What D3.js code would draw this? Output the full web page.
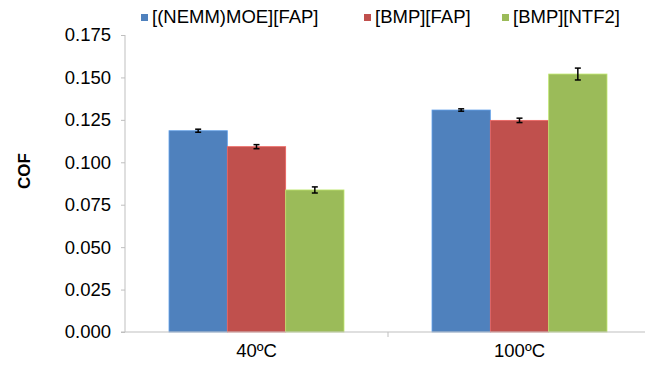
<!DOCTYPE html>
<html>
<head>
<meta charset="utf-8">
<script src="https://cdn.jsdelivr.net/npm/d3@7"></script>
<style>
	body { margin: 0; background: #fff; }
	text { font-family: "Liberation Sans", Arial, sans-serif; fill: #000; }
</style>
</head>
<body>
<div id="chart"></div>
<script>
var categories = ["40ºC", "100ºC"];
var seriesNames = ["[(NEMM)MOE][FAP]", "[BMP][FAP]", "[BMP][NTF2]"];
var seriesColors = ["#4f81bd", "#c0504d", "#9bbb59"];
var values = [
	[0.1186, 0.1308],
	[0.1092, 0.1247],
	[0.0837, 0.1520]
];
var errors = [
	[0.0009, 0.0007],
	[0.0012, 0.0013],
	[0.0018, 0.0035]
];
var yTicks = [0, 0.025, 0.05, 0.075, 0.1, 0.125, 0.15, 0.175];

var width = 645, height = 372;
var margin = { left: 125, right: 651, top: 35, bottom: 332 };
var fontSize = "18.5px";

var svg = d3.select("#chart").append("svg")
	.attr("width", width)
	.attr("height", height);

var x0 = d3.scaleBand()
	.domain(categories)
	.range([margin.left, margin.right])
	.padding(0);

var groupW = 175;
var x1 = d3.scaleBand()
	.domain(d3.range(seriesNames.length))
	.range([(x0.bandwidth() - groupW) / 2, (x0.bandwidth() + groupW) / 2]);

var y = d3.scaleLinear()
	.domain([0, 0.175])
	.range([margin.bottom, margin.top]);

// y axis
var yAxis = svg.append("g")
	.attr("transform", "translate(" + margin.left + ",0)")
	.call(d3.axisLeft(y).tickValues(yTicks).tickSize(4).tickPadding(10)
		.tickFormat(d3.format(".3f")));
yAxis.selectAll("line, path").attr("stroke", "#bfbfbf");
yAxis.select(".domain").attr("d", "M0," + margin.top + "V" + margin.bottom);
yAxis.selectAll("text").style("font-size", fontSize).attr("fill", "#000");

// bars
var rows = [];
values.forEach(function(s, i)
{
	s.forEach(function(v, j)
	{
		rows.push({ s: i, c: categories[j], v: v, e: errors[i][j] });
	});
});

function cx(d) { return x0(d.c) + x1(d.s) + x1.bandwidth() / 2; }

svg.selectAll(".bar")
	.data(rows)
	.enter()
	.append("rect")
	.attr("class", "bar")
	.attr("x", function(d) { return x0(d.c) + x1(d.s); })
	.attr("y", function(d) { return y(d.v); })
	.attr("width", x1.bandwidth())
	.attr("height", function(d) { return margin.bottom - y(d.v); })
	.attr("fill", function(d) { return seriesColors[d.s]; })
	.attr("stroke", function(d) { return d3.color(seriesColors[d.s]).brighter(0.6); })
	.attr("stroke-width", 0.8);

// error bars
var eb = svg.selectAll(".err")
	.data(rows)
	.enter()
	.append("g")
	.attr("class", "err")
	.attr("stroke", "#000")
	.attr("stroke-width", 1.5);

eb.append("line")
	.attr("x1", cx)
	.attr("x2", cx)
	.attr("y1", function(d) { return y(d.v + d.e); })
	.attr("y2", function(d) { return y(d.v - d.e); });

[1, -1].forEach(function(sign)
{
	eb.append("line")
		.attr("x1", function(d) { return cx(d) - 3; })
		.attr("x2", function(d) { return cx(d) + 3; })
		.attr("y1", function(d) { return y(d.v + sign * d.e); })
		.attr("y2", function(d) { return y(d.v + sign * d.e); });
});

// x axis
var xAxis = svg.append("g")
	.attr("transform", "translate(0," + margin.bottom + ")")
	.call(d3.axisBottom(x0).tickSize(0).tickPadding(12));
xAxis.select(".domain").attr("stroke", "#bfbfbf").attr("d", "M" + (margin.left - 4) + ",0H" + margin.right);
xAxis.selectAll("text").style("font-size", fontSize).attr("fill", "#000");

// category separators
svg.append("g")
	.selectAll("line")
	.data(categories.slice(1))
	.enter()
	.append("line")
	.attr("x1", function(d) { return x0(d); })
	.attr("x2", function(d) { return x0(d); })
	.attr("y1", margin.bottom)
	.attr("y2", margin.bottom + 5)
	.attr("stroke", "#bfbfbf");

// y title
svg.append("text")
	.attr("transform", "translate(30,171) rotate(-90)")
	.attr("text-anchor", "middle")
	.style("font-size", "17px")
	.style("font-weight", "bold")
	.text("COF");

// legend
var legendX = [141, 364, 502];
var lg = svg.selectAll(".legend")
	.data(seriesNames)
	.enter()
	.append("g")
	.attr("class", "legend")
	.attr("transform", function(d, i) { return "translate(" + legendX[i] + ",17)"; });

lg.append("rect")
	.attr("x", 0)
	.attr("y", -3)
	.attr("width", 7)
	.attr("height", 7)
	.attr("fill", function(d, i) { return seriesColors[i]; });

lg.append("text")
	.attr("x", 11)
	.attr("dy", "0.35em")
	.style("font-size", fontSize)
	.text(function(d) { return d; });
</script>
</body>
</html>
